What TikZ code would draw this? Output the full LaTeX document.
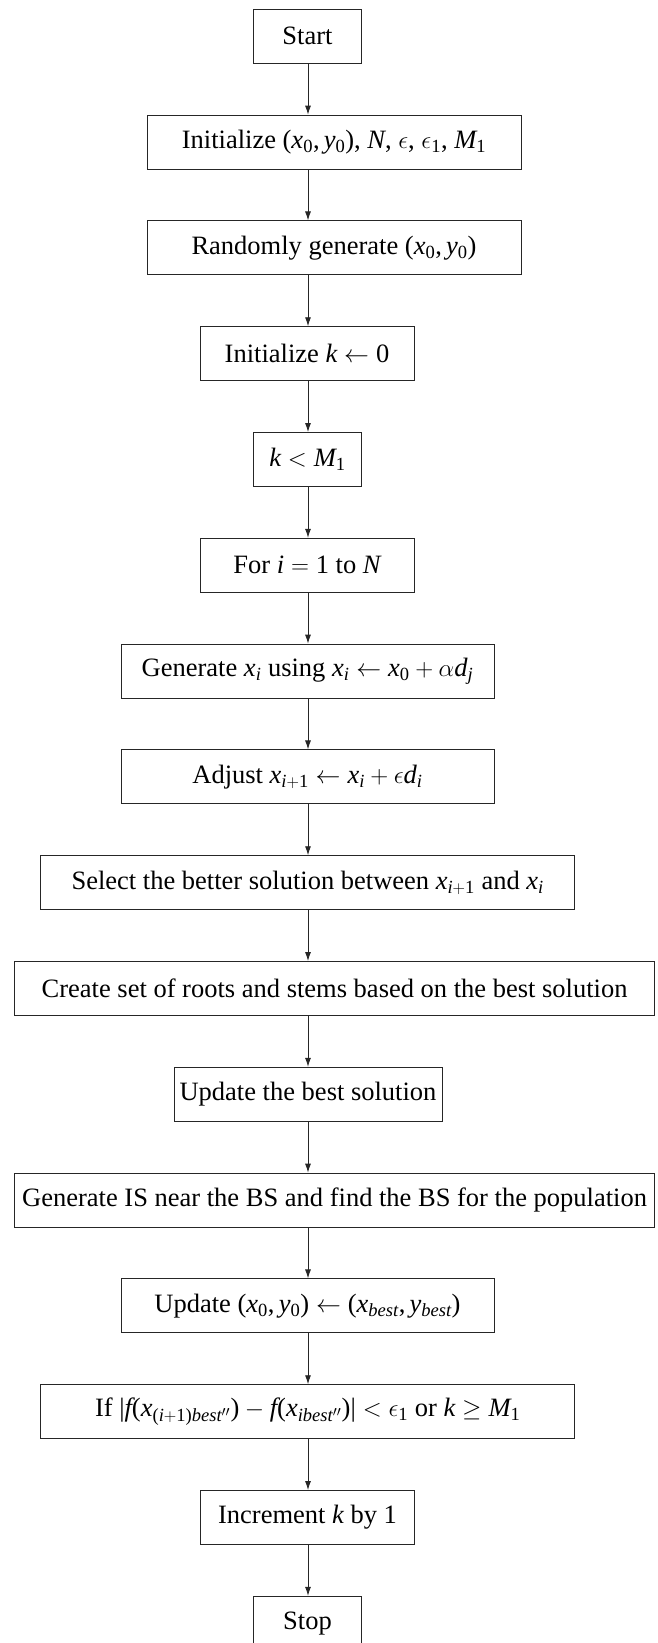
\documentclass[tikz,border=0pt]{standalone}
\usepackage[no-math]{fontspec}
\setmainfont{Liberation Serif}
\DeclareSymbolFont{tletters}{TU}{\rmdefault}{m}{it}
\DeclareSymbolFont{tupright}{TU}{\rmdefault}{m}{n}
\AtBeginDocument{%
\DeclareMathSymbol{x}{\mathalpha}{tletters}{`x}%
\DeclareMathSymbol{y}{\mathalpha}{tletters}{`y}%
\DeclareMathSymbol{N}{\mathalpha}{tletters}{`N}%
\DeclareMathSymbol{M}{\mathalpha}{tletters}{`M}%
\DeclareMathSymbol{k}{\mathalpha}{tletters}{`k}%
\DeclareMathSymbol{i}{\mathalpha}{tletters}{`i}%
\DeclareMathSymbol{d}{\mathalpha}{tletters}{`d}%
\DeclareMathSymbol{j}{\mathalpha}{tletters}{`j}%
\DeclareMathSymbol{f}{\mathalpha}{tletters}{`f}%
\DeclareMathSymbol{b}{\mathalpha}{tletters}{`b}%
\DeclareMathSymbol{e}{\mathalpha}{tletters}{`e}%
\DeclareMathSymbol{s}{\mathalpha}{tletters}{`s}%
\DeclareMathSymbol{t}{\mathalpha}{tletters}{`t}%
\DeclareMathSymbol{0}{\mathalpha}{tupright}{`0}%
\DeclareMathSymbol{1}{\mathalpha}{tupright}{`1}%
\DeclareMathSymbol{(}{\mathopen}{tupright}{`(}%
\DeclareMathSymbol{)}{\mathclose}{tupright}{`)}%
\DeclareMathSymbol{,}{\mathpunct}{tupright}{`,}%
\DeclareMathSymbol{|}{\mathord}{tupright}{`|}%
}
\usetikzlibrary{arrows.meta}
\tikzset{
  box/.style={draw=black!85, line width=0.9pt, minimum height=54pt, inner sep=0pt,
    font=\fontsize{26.5}{30}\selectfont, text=black},
  arr/.style={draw=black!85, line width=0.9pt, -{Latex[length=9pt,width=6pt]}}
}
\begin{document}
\begin{tikzpicture}[x=1pt,y=-1pt]
\useasboundingbox (0,0) rectangle (658,1643);
\coordinate (ax) at (308,0);
\node[box, minimum width=108pt] (n0) at (307.5,36.3) {Start};
\node[box, minimum width=374pt] (n1) at (334,142.1) {Initialize $(x_0, y_0)$, $N$, $\epsilon$, $\epsilon_1$, $M_1$};
\node[box, minimum width=374pt] (n2) at (334,247.9) {Randomly generate $(x_0, y_0)$};
\node[box, minimum width=214pt] (n3) at (307,353.7) {Initialize $k \leftarrow 0$};
\node[box, minimum width=108pt] (n4) at (307.5,459.5) {$k < M_1$};
\node[box, minimum width=214pt] (n5) at (307,565.3) {For $i = 1$ to $N$};
\node[box, minimum width=373pt] (n6) at (307.5,671.1) {Generate $x_i$ using $x_i \leftarrow x_0 + \alpha d_j$};
\node[box, minimum width=373pt] (n7) at (307.5,776.9) {Adjust $x_{i+1} \leftarrow x_i + \epsilon d_i$};
\node[box, minimum width=534pt] (n8) at (307.7,882.7) {Select the better solution between $x_{i+1}$ and $x_i$};
\node[box, minimum width=640pt] (n9) at (334.6,988.5) {Create set of roots and stems based on the best solution};
\node[box, minimum width=268pt] (n10) at (308,1094.3) {Update the best solution};
\node[box, minimum width=640pt] (n11) at (334.6,1200.1) {Generate IS near the BS and find the BS for the population};
\node[box, minimum width=373pt] (n12) at (307.5,1305.9) {Update $(x_0, y_0) \leftarrow (x_{best}, y_{best})$};
\node[box, minimum width=534pt] (n13) at (307.7,1411.7) {If $|f(x_{(i+1)best''}) - f(x_{ibest''})| < \epsilon_1$ or $k \geq M_1$};
\node[box, minimum width=214pt] (n14) at (307.5,1517.5) {Increment $k$ by 1};
\node[box, minimum width=108pt] (n15) at (307.5,1623.3) {Stop};
\foreach \a/\b in {n0/n1,n1/n2,n2/n3,n3/n4,n4/n5,n5/n6,n6/n7,n7/n8,n8/n9,n9/n10,n10/n11,n11/n12,n12/n13,n13/n14,n14/n15}
  \draw[arr] (\a.south -| ax) -- (\b.north -| ax);
\end{tikzpicture}
\end{document}
